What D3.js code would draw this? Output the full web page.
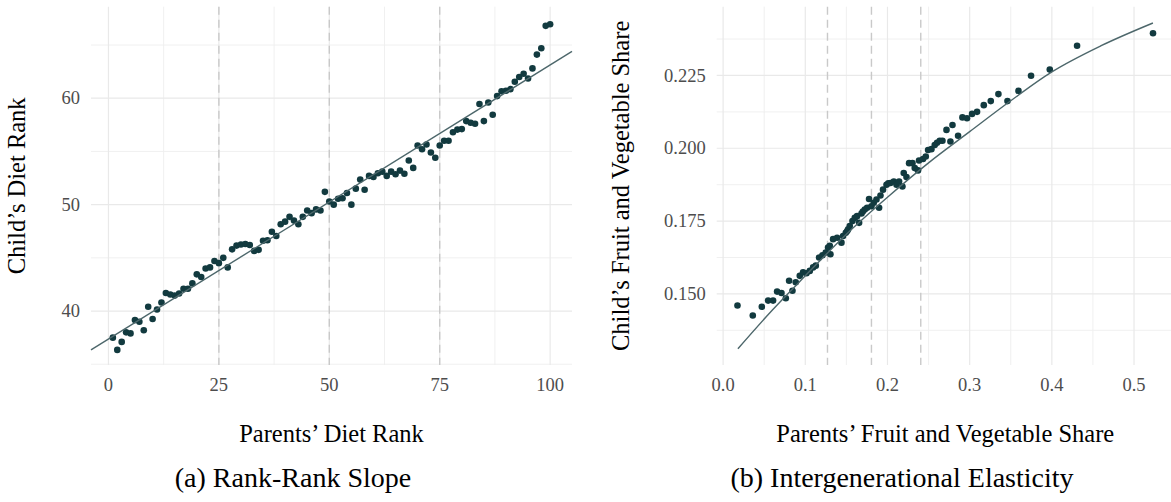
<!DOCTYPE html>
<html>
<head>
<meta charset="utf-8">
<script src="https://cdn.jsdelivr.net/npm/d3@7"></script>
<style>
  body { margin: 0; background: #fff; }
  svg { display: block; }
  text { font-family: "Liberation Serif", "Times New Roman", serif; }
</style>
</head>
<body>
<svg id="chart" width="1171" height="502"></svg>
<script>
// panel (a): rank-rank
const parentRank = [1,2,3,4,5,6,7,8,9,10,11,12,13,14,15,16,17,18,19,20,
  21,22,23,24,25,26,27,28,29,30,31,32,33,34,35,36,37,38,39,40,
  41,42,43,44,45,46,47,48,49,50,51,52,53,54,55,56,57,58,59,60,
  61,62,63,64,65,66,67,68,69,70,71,72,73,74,75,76,77,78,79,80,
  81,82,83,84,85,86,87,88,89,90,91,92,93,94,95,96,97,98,99,100];
const childRank = [37.5,36.35,37.1,38.0,37.9,39.15,39.0,38.2,40.4,39.25,
  40.15,40.8,41.7,41.55,41.45,41.65,42.1,42.1,42.6,43.45,
  43.2,44.0,44.1,44.7,44.5,45.0,44.1,45.8,46.15,46.25,
  46.3,46.2,45.65,45.75,46.6,46.65,47.45,47.05,48.15,48.4,
  48.85,48.5,48.15,48.85,49.45,49.2,49.55,49.45,51.2,50.3,
  50.0,50.55,50.6,51.1,50.0,51.5,52.35,51.4,52.7,52.6,
  52.95,53.1,52.7,53.1,52.85,53.2,52.9,54.15,53.45,55.55,
  55.2,55.65,54.9,54.4,55.55,56.0,56.0,56.8,57.05,57.1,
  57.85,57.7,57.6,59.45,57.85,59.6,58.45,60.2,60.65,60.7,
  60.85,61.55,62.0,62.3,61.85,62.8,64.1,64.7,66.8,66.95];
const rankFitX = [-3.95, 104.95];
const rankFitY = [36.35, 64.4];
const rankCuts = [25, 50, 75];
const rankXTicks = [0, 25, 50, 75, 100];
const rankYTicks = [40, 50, 60];

// panel (b): fruit and vegetable share
const parentShare = [0.0175,0.0361,0.0471,0.0548,0.0608,0.0657,0.0710,0.0763,0.0803,0.0844,
  0.0884,0.0933,0.0973,0.1015,0.1055,0.1095,0.1128,0.1168,0.1209,0.1249,
  0.1277,0.1298,0.1306,0.1338,0.1387,0.1440,0.1460,0.1493,0.1510,0.1521,
  0.1541,0.1574,0.1602,0.1630,0.1655,0.1684,0.1700,0.1724,0.1752,0.1776,
  0.1805,0.1833,0.1866,0.1898,0.1915,0.1946,0.1988,0.2010,0.2036,0.2077,
  0.2110,0.2141,0.2182,0.2198,0.2231,0.2263,0.2304,0.2332,0.2372,0.2384,
  0.2433,0.2466,0.2494,0.2535,0.2575,0.2603,0.2636,0.2669,0.2718,0.2766,
  0.2791,0.2859,0.2912,0.2968,0.3029,0.3090,0.3172,0.3257,0.3350,0.3460,
  0.3594,0.3747,0.3975,0.4307,0.5231];
const childShare = [0.1460,0.1426,0.1456,0.1477,0.1477,0.1508,0.1503,0.1485,0.1545,0.1511,
  0.1540,0.1562,0.1574,0.1571,0.1579,0.1591,0.1597,0.1625,0.1633,0.1642,
  0.1659,0.1665,0.1636,0.1688,0.1693,0.1676,0.1699,0.1710,0.1716,0.1722,
  0.1733,0.1750,0.1761,0.1767,0.1744,0.1776,0.1783,0.1790,0.1796,0.1826,
  0.1801,0.1813,0.1824,0.1796,0.1838,0.1858,0.1875,0.1880,0.1881,0.1886,
  0.1875,0.1886,0.1869,0.1915,0.1901,0.1949,0.1949,0.1932,0.1924,0.1958,
  0.1963,0.1972,0.1994,0.1997,0.2011,0.2019,0.2026,0.2026,0.2063,0.2023,
  0.2080,0.2043,0.2106,0.2103,0.2118,0.2125,0.2148,0.2162,0.2186,0.2162,
  0.2197,0.2249,0.2270,0.2352,0.2395];
const shareFitX = [0.018, 0.06, 0.1, 0.15, 0.2, 0.25, 0.3, 0.35, 0.4, 0.46, 0.523];
const shareFitY = [0.1312, 0.1445, 0.1562, 0.1705, 0.1832, 0.1950, 0.2057, 0.2163, 0.2262, 0.2352, 0.2430];
const shareCuts = [0.127, 0.1805, 0.2405];
const shareXTicks = [0, 0.1, 0.2, 0.3, 0.4, 0.5];
const shareYTicks = [0.15, 0.175, 0.2, 0.225];

const svg = d3.select('#chart');
const plotTop = 6.7, plotBottom = 365;

function drawPanel(p) {
  const x = d3.scaleLinear().domain(p.xDomain).range(p.xRange);
  const y = d3.scaleLinear().domain(p.yDomain).range([plotBottom, plotTop]);
  const g = svg.append('g');

  // minor + major grid
  g.append('g').selectAll('line')
    .data(p.xMinor)
    .join('line')
      .attr('x1', d => x(d)).attr('x2', d => x(d))
      .attr('y1', plotTop).attr('y2', plotBottom)
      .attr('stroke', '#eeeeee').attr('stroke-width', 0.9);
  g.append('g').selectAll('line')
    .data(p.yMinor)
    .join('line')
      .attr('x1', p.xRange[0]).attr('x2', p.xRange[1])
      .attr('y1', d => y(d)).attr('y2', d => y(d))
      .attr('stroke', '#eeeeee').attr('stroke-width', 0.9);
  g.append('g').selectAll('line')
    .data(p.xTicks)
    .join('line')
      .attr('x1', d => x(d)).attr('x2', d => x(d))
      .attr('y1', plotTop).attr('y2', plotBottom)
      .attr('stroke', '#e9e9e9').attr('stroke-width', 1.2);
  g.append('g').selectAll('line')
    .data(p.yTicks)
    .join('line')
      .attr('x1', p.xRange[0]).attr('x2', p.xRange[1])
      .attr('y1', d => y(d)).attr('y2', d => y(d))
      .attr('stroke', '#e9e9e9').attr('stroke-width', 1.2);

  // dashed cut lines
  g.append('g').selectAll('line')
    .data(p.cuts)
    .join('line')
      .attr('x1', d => x(d)).attr('x2', d => x(d))
      .attr('y1', plotTop).attr('y2', plotBottom)
      .attr('stroke', '#c9c9c9').attr('stroke-width', 1.4)
      .attr('stroke-dasharray', '8,5');

  // points
  g.append('g').selectAll('circle')
    .data(p.px.map((d, i) => [d, p.py[i]]))
    .join('circle')
      .attr('cx', d => x(d[0]))
      .attr('cy', d => y(d[1]))
      .attr('r', 3.3)
      .attr('fill', '#123a3f');

  // fit
  const line = d3.line()
    .x(d => x(d[0]))
    .y(d => y(d[1]))
    .curve(d3.curveMonotoneX);
  g.append('path')
    .datum(p.fx.map((d, i) => [d, p.fy[i]]))
    .attr('d', line)
    .attr('fill', 'none')
    .attr('stroke', '#4d676b')
    .attr('stroke-width', 1.4);

  // tick labels
  g.append('g').selectAll('text')
    .data(p.xTicks)
    .join('text')
      .attr('x', d => x(d)).attr('y', 390.5)
      .attr('text-anchor', 'middle')
      .attr('font-size', 18.5)
      .attr('fill', '#4d4d4d')
      .text(p.xFmt);
  g.append('g').selectAll('text')
    .data(p.yTicks)
    .join('text')
      .attr('x', p.xRange[0] - 11).attr('y', d => y(d) + 6.2)
      .attr('text-anchor', 'end')
      .attr('font-size', 18.5)
      .attr('fill', '#4d4d4d')
      .text(p.yFmt);

  // titles
  const cx = (p.xRange[0] + p.xRange[1]) / 2;
  g.append('text')
    .attr('x', cx).attr('y', 442)
    .attr('text-anchor', 'middle')
    .attr('font-size', 24.5)
    .text(p.xTitle);
  g.append('text')
    .attr('transform', `translate(${p.yTitleX},${(plotTop + plotBottom) / 2}) rotate(-90)`)
    .attr('text-anchor', 'middle')
    .attr('font-size', 24.5)
    .text(p.yTitle);
  g.append('text')
    .attr('x', p.capX).attr('y', 487)
    .attr('text-anchor', 'middle')
    .attr('font-size', 28)
    .text(p.caption);
}

drawPanel({
  xDomain: [-3.95, 104.95], xRange: [91, 572],
  yDomain: [34.93, 68.6],
  xTicks: rankXTicks, yTicks: rankYTicks,
  xMinor: [12.5, 37.5, 62.5, 87.5], yMinor: [35, 45, 55, 65],
  cuts: rankCuts,
  px: parentRank, py: childRank,
  fx: rankFitX, fy: rankFitY,
  xFmt: d3.format('d'), yFmt: d3.format('d'),
  xTitle: 'Parents’ Diet Rank', yTitle: 'Child’s Diet Rank', yTitleX: 25,
  caption: '(a) Rank-Rank Slope', capX: 293
});

drawPanel({
  xDomain: [-0.0078, 0.5484], xRange: [716.7, 1173.8],
  yDomain: [0.1256, 0.2486],
  xTicks: shareXTicks, yTicks: shareYTicks,
  xMinor: [0.05, 0.15, 0.25, 0.35, 0.45], yMinor: [0.1375, 0.1625, 0.1875, 0.2125, 0.2375],
  cuts: shareCuts,
  px: parentShare, py: childShare,
  fx: shareFitX, fy: shareFitY,
  xFmt: d3.format('.1f'), yFmt: d3.format('.3f'),
  xTitle: 'Parents’ Fruit and Vegetable Share', yTitle: 'Child’s Fruit and Vegetable Share', yTitleX: 629,
  caption: '(b) Intergenerational Elasticity', capX: 902
});
</script>
</body>
</html>
